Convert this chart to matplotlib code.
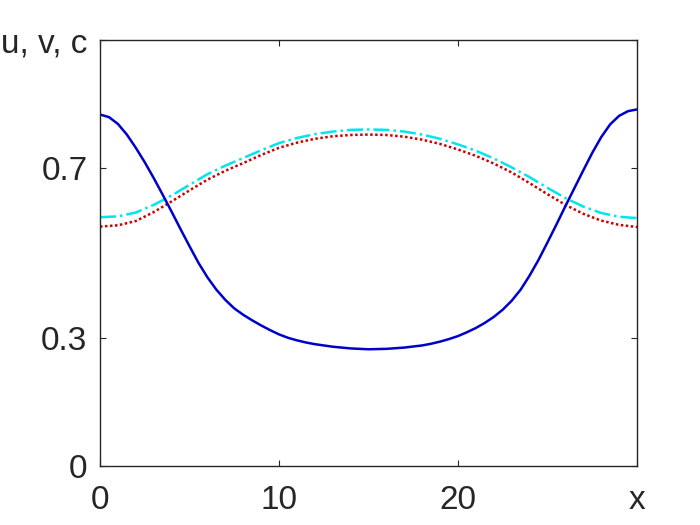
import numpy as np
import matplotlib.pyplot as plt

plt.rcParams['font.family'] = ['Liberation Sans', 'DejaVu Sans']

# values
# u is sampled finer where it bends sharply
xu = [0, 0.5, 1, 1.5, 2, 2.5, 3, 3.5, 4, 4.5, 5, 5.5, 6, 6.5, 7, 7.5, 8, 8.5,
      9, 9.5, 10, 10.5, 11, 11.5, 12, 13, 14, 15, 16, 17, 18, 18.5, 19, 19.5,
      20, 20.5, 21, 21.5, 22, 22.5, 23, 23.5, 24, 24.5, 25, 25.5, 26, 26.5,
      27, 27.5, 28, 28.5, 29, 29.5, 30]
u = [0.825, 0.819, 0.803, 0.778, 0.747, 0.713, 0.676, 0.637, 0.597, 0.556,
     0.516, 0.477, 0.443, 0.414, 0.390, 0.370, 0.355, 0.342, 0.330, 0.319,
     0.309, 0.301, 0.295, 0.290, 0.286, 0.280, 0.276, 0.274, 0.275, 0.278,
     0.283, 0.287, 0.292, 0.298, 0.305, 0.314, 0.324, 0.336, 0.350, 0.367,
     0.388, 0.414, 0.447, 0.484, 0.525, 0.567, 0.610, 0.652, 0.694, 0.735,
     0.772, 0.802, 0.822, 0.833, 0.837]

x = np.arange(0, 31)
v = [0.584, 0.586, 0.595, 0.613, 0.635, 0.660, 0.685, 0.705, 0.723, 0.741,
     0.758, 0.770, 0.779, 0.785, 0.789, 0.790, 0.789, 0.785, 0.778, 0.768,
     0.755, 0.740, 0.722, 0.701, 0.678, 0.653, 0.629, 0.609, 0.594, 0.585,
     0.582]
c = [0.562, 0.565, 0.575, 0.596, 0.621, 0.647, 0.672, 0.693, 0.711, 0.730,
     0.747, 0.759, 0.768, 0.774, 0.777, 0.778, 0.777, 0.773, 0.766, 0.756,
     0.743, 0.728, 0.710, 0.689, 0.664, 0.638, 0.613, 0.592, 0.576, 0.566,
     0.561]

xticks = [0, 10, 20, 30]
xtick_labels = ['0', '10', '20', 'x']
yticks = [0, 0.3, 0.7, 1]
ytick_labels = ['0', '0.3', '0.7', 'u, v, c']

fig = plt.figure(figsize=(7, 5.25), dpi=100)
ax = fig.add_axes([100 / 700, 59 / 525, 537 / 700, 426 / 525])

ax.plot(x, c, color='#cc0000', lw=1.8, dashes=(1, 1))
ax.plot(x, v, color='#00e5ee', lw=1.8, linestyle='-.')
ax.plot(xu, u, color='#0000cc', lw=1.8)

ax.set_xlim(0, 30)
ax.set_ylim(0, 1)
ax.set_xticks(xticks)
ax.set_xticklabels(xtick_labels)
ax.set_yticks(yticks)
ax.set_yticklabels(ytick_labels)

ax.tick_params(direction='in', length=4, width=0.8, top=True, right=True,
               labelsize=24, colors='#262626')
ax.tick_params(axis='x', pad=14)
ax.tick_params(axis='y', pad=9)
for s in ax.spines.values():
    s.set_linewidth(1.0)
    s.set_color('#262626')

fig.savefig('out.png')
